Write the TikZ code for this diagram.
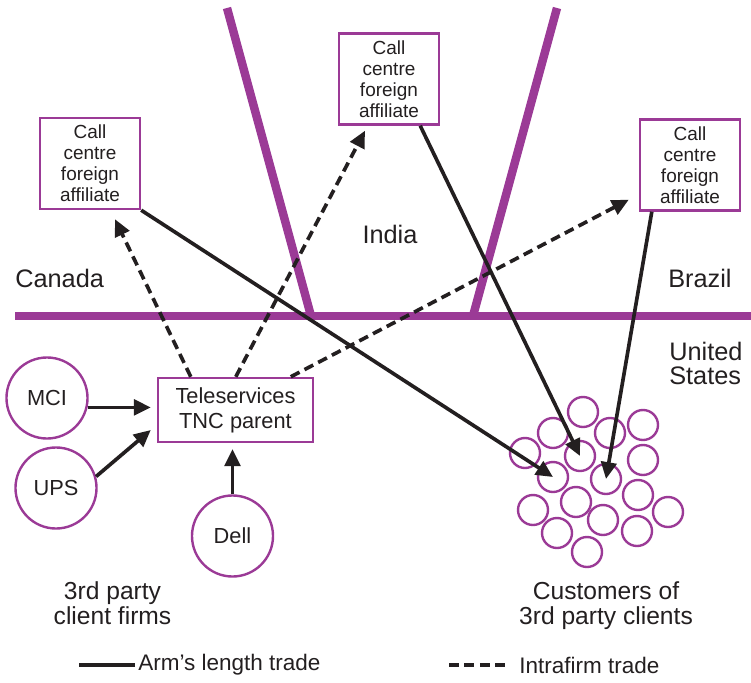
\documentclass[tikz,border=0pt]{standalone}
\usepackage{fontspec}
\setmainfont{Liberation Sans}
\usetikzlibrary{arrows.meta,calc}
\definecolor{plum}{RGB}{155,58,150}
\definecolor{ink}{RGB}{35,31,32}

\begin{document}
\begin{tikzpicture}[x=0.025cm,y=-0.025cm,
        border/.style={draw=plum,line width=6pt},
        affil/.style={draw=plum,line width=1.7pt,minimum width=2.5cm,minimum height=2.275cm,
            inner sep=0pt,align=center,text=ink,font=\fontsize{13.5}{15}\selectfont},
        firm/.style={circle,draw=plum,line width=1.7pt,minimum size=2.025cm,inner sep=0pt,
            text=ink,font=\fontsize{15.5}{18}\selectfont},
        cust/.style={circle,draw=plum,line width=1.7pt,minimum size=0.75cm,inner sep=0pt},
        lbl/.style={inner sep=0pt,text=ink,font=\fontsize{18}{17}\selectfont},
        lgd/.style={inner sep=0pt,text=ink,font=\fontsize{16}{18}\selectfont},
        arm/.style={draw=ink,line width=2.6pt,-{Triangle[length=12pt,width=11pt]}},
        intra/.style={arm,dash pattern=on 7pt off 4pt}]
        \useasboundingbox (0,0) rectangle (751,683);

        \draw [border] (15,316) -- (751,316);
        \draw [border] (227,8) -- (311,316);
        \draw [border] (557,8) -- (473,316);

        \node [lbl,anchor=base west] (canada) at (15,287) {Canada};
        \node [lbl,anchor=base] (india) at (390,243) {India};
        \node [lbl,anchor=base west] (brazil) at (668,287) {Brazil};
        \node [lbl,anchor=north west,align=left] (usa) at (669,342) {United\\States};

        \node [affil] (lbox) at (90,163.5) {Call\\centre\\foreign\\affiliate};
        \node [affil] (mbox) at (389,79) {Call\\centre\\foreign\\affiliate};
        \node [affil] (rbox) at (690,165) {Call\\centre\\foreign\\affiliate};
        \node [affil,minimum width=3.875cm,minimum height=1.6cm,font=\fontsize{15.5}{17.7}\selectfont]
            (tnc) at (235.5,410) {Teleservices\\TNC parent};

        \node [firm] (mci) at (47,398) {MCI};
        \node [firm] (ups) at (56,488) {UPS};
        \node [firm] (dell) at (232.5,536) {Dell};

        \foreach \cx/\cy [count=\i] in {583/412,553/433,610/433,643/425,525/453,580/456,
            643/460,553/477,606/479,638/495,533/510,576/502,668/512,603/520,557/533,
            637/531,587/552} {
            \node [cust] (c\i) at (\cx,\cy) {};
        }

        \node [lbl,anchor=north,align=center,font=\fontsize{17.5}{18.4}\selectfont]
            (firms) at (112.5,581) {3rd party\\client firms};
        \node [lbl,anchor=north,align=center,font=\fontsize{17.5}{18.4}\selectfont]
            (custs) at (606,581) {Customers of\\3rd party clients};

        \draw [arm,shorten >=4.25pt] (mci.-13) -- (mci.-13 -| tnc.west);
        \draw [arm] (ups.16) -- ($(tnc.west)+(-6,20)$);
        \draw [arm,shorten >=4.25pt] (dell.north) -- (dell.north |- tnc.south);

        \draw [intra] ($(tnc.north west)+(34,0)$) -- ($(lbox.south)+(25,9)$);
        \draw [intra] ($(tnc.north west)+(79,0)$) -- ($(mbox.south)+(-24,5)$);
        \draw [intra] ($(tnc.north west)+(134,0)$) -- ($(rbox.south west)+(-10,-12)$);

        \draw [arm] (lbox.south east) -- (c8.center);
        \draw [arm] ($(mbox.south east)+(-20,0)$) -- (c6.center);
        \draw [arm] ($(rbox.south west)+(13,0)$) -- (c9.center);

        \node [lgd,anchor=west] (armlen) at (138,665) {Arm’s length trade};
        \node [lgd,anchor=west] (intrafirm) at (519,665) {Intrafirm trade};
        \draw [draw=ink,line width=2.6pt] ($(armlen.west)+(-3,0)$) -- ++(-56,0);
        \draw [draw=ink,line width=2.6pt,dash pattern=on 7pt off 4pt]
            ($(intrafirm.west)+(-70,0)$) -- ++(56,0);
    \end{tikzpicture}
\end{document}
